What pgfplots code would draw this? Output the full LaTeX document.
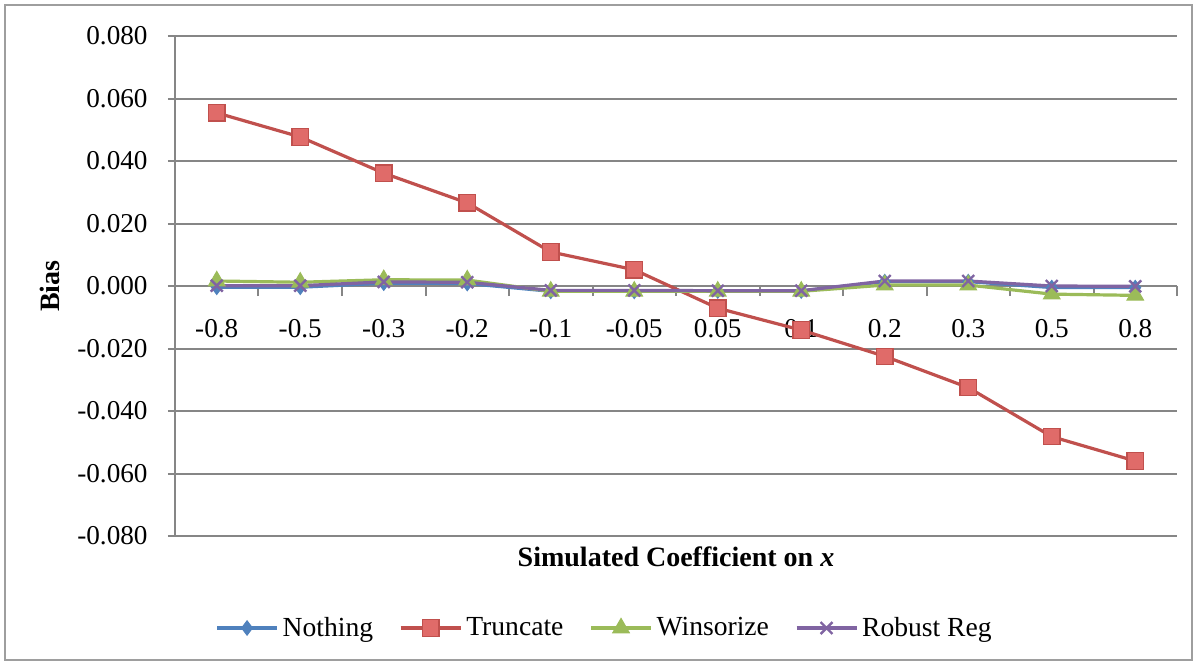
\documentclass[border=0pt]{standalone}
\usepackage{fontspec}
\setmainfont{Liberation Serif}
\usepackage{pgfplots}
\pgfplotsset{compat=1.18}
\definecolor{cblue}{HTML}{4F81BD}
\definecolor{cred}{HTML}{C0504D}
\definecolor{credfill}{HTML}{E06B69}
\definecolor{cgreen}{HTML}{9BBB59}
\definecolor{cpurple}{HTML}{8064A2}
\definecolor{cgrid}{HTML}{868686}
\begin{document}
\begin{tikzpicture}
\useasboundingbox (-87.5pt,-64.5pt) rectangle (511.5pt,268pt);
\draw[color=cgrid!80, line width=0.8pt] (-85pt,-62pt) rectangle (508.5pt,265.5pt);
\begin{axis}[
  at={(0pt,0pt)}, anchor=south west,
  scale only axis, width=501pt, height=250pt,
  xmin=-0.5, xmax=11.5, ymin=-0.08, ymax=0.08,
  scaled y ticks=false,
  axis x line*=middle, axis y line*=left,
  x axis line style={-, draw=cgrid, line width=1pt},
  y axis line style={-, draw=cgrid, line width=1pt},
  xtick={0,...,11},
  xticklabels={-0.8,-0.5,-0.3,-0.2,-0.1,-0.05,0.05,0.1,0.2,0.3,0.5,0.8},
  minor xtick={-0.5,0.5,...,11.5},
  major x tick style={draw=none},
  minor x tick style={draw=cgrid, line width=1pt},
  minor tick length=5pt,
  tick align=outside,
  ytick={-0.08,-0.06,...,0.081},
  yticklabels={-0.080,-0.060,-0.040,-0.020,0.000,0.020,0.040,0.060,0.080},
  major y tick style={draw=cgrid, line width=1pt},
  major tick length=3.5pt,
  ymajorgrids,
  grid style={draw=cgrid, line width=1pt},
  tick label style={font=\fontsize{13.6}{15}\selectfont},
  xticklabel style={anchor=base, yshift=-22pt},
  yticklabel style={anchor=east, inner sep=0pt, xshift=-10pt},
  ylabel={\textbf{Bias}},
  ylabel style={at={(axis description cs:-0.1248,0.5)}, anchor=center, rotate=0, font=\fontsize{14}{16}\selectfont},
  xlabel={\textbf{Simulated Coefficient on \textit{x}}},
  xlabel style={at={(axis description cs:0.5,-0.042)}, anchor=center, font=\fontsize{14}{16}\selectfont},
  legend columns=4,
  legend style={at={(axis description cs:0.04,-0.184)}, anchor=west, draw=none, fill=none, inner sep=0pt,
    font=\fontsize{13.8}{15}\selectfont, /tikz/every even column/.append style={column sep=11pt}},
  legend image code/.code={\draw[mark repeat=2, mark phase=2] plot coordinates {(0pt,0pt) (15pt,0pt) (30pt,0pt)};},
  clip=false,
]
\addplot[color=cblue, line width=1.6pt, mark=diamond*, mark size=3.6pt, mark options={fill=cblue, draw=cblue, line width=0.5pt}]
coordinates {(0,-0.0004) (1,-0.0004) (2,0.0009) (3,0.0008) (4,-0.0017) (5,-0.0017) (6,-0.0016) (7,-0.0016) (8,0.0014) (9,0.0014) (10,-0.0005) (11,-0.0005)};
\addlegendentry{Nothing}
\addplot[color=cred, line width=1.6pt, mark=square*, mark size=4.1pt, mark options={fill=credfill, draw=cred, line width=0.6pt}]
coordinates {(0,0.0554) (1,0.0477) (2,0.0361) (3,0.0266) (4,0.0109) (5,0.0052) (6,-0.0071) (7,-0.0141) (8,-0.0225) (9,-0.0325) (10,-0.0482) (11,-0.0560)};
\addlegendentry{Truncate}
\addplot[color=cgreen, line width=1.6pt, mark=triangle*, mark size=4.8pt, mark options={fill=cgreen, draw=cgreen, line width=0.5pt}]
coordinates {(0,0.0016) (1,0.0012) (2,0.0020) (3,0.0019) (4,-0.0017) (5,-0.0017) (6,-0.0017) (7,-0.0017) (8,0.0003) (9,0.0003) (10,-0.0026) (11,-0.0030)};
\addlegendentry{Winsorize}
\addplot[color=cpurple, line width=1.6pt, mark=x, mark size=4.2pt, mark options={draw=cpurple, line width=1.2pt}]
coordinates {(0,0.0001) (1,0.0001) (2,0.0013) (3,0.0012) (4,-0.0014) (5,-0.0014) (6,-0.0015) (7,-0.0015) (8,0.0016) (9,0.0016) (10,0.0000) (11,-0.0001)};
\addlegendentry{Robust Reg}
\end{axis}
\end{tikzpicture}
\end{document}
